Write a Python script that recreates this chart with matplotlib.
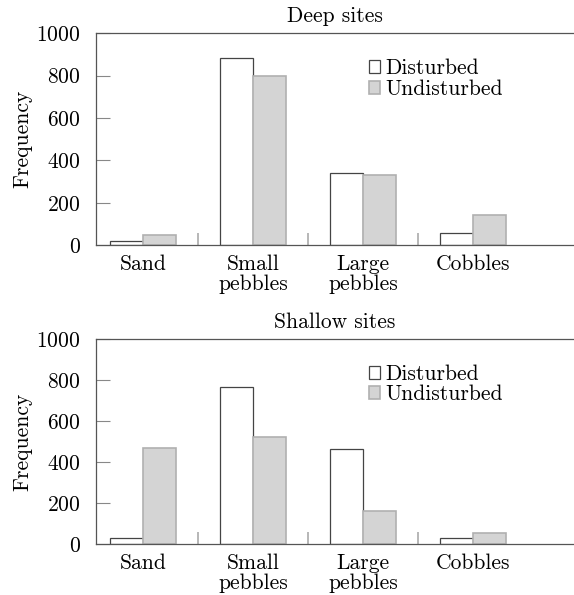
import matplotlib.pyplot as plt
import numpy as np

# data
categories = ["Sand", "Small\npebbles", "Large\npebbles", "Cobbles"]
deep_disturbed = [20, 885, 340, 55]
deep_undisturbed = [50, 797, 332, 140]
shallow_disturbed = [28, 765, 461, 28]
shallow_undisturbed = [466, 524, 161, 52]
yticks = [0, 200, 400, 600, 800, 1000]

plt.rcParams['font.family'] = ['cmr10', 'DejaVu Serif']
plt.rcParams['axes.formatter.use_mathtext'] = True

fig = plt.figure(figsize=(5.74, 5.95), dpi=100)
ax1 = fig.add_axes([0.167, 0.588, 0.833, 0.356])
ax2 = fig.add_axes([0.167, 0.086, 0.833, 0.344])

x = np.arange(1, len(categories) + 1)
w = 0.3
fs = 15.5
spine_col = "#555555"

def draw(ax, dist, undist, title):
    ax.bar(x - w / 2, dist, w, color="white", edgecolor="#444444", linewidth=0.9,
           label="Disturbed")
    ax.bar(x + w / 2, undist, w, color="#d4d4d4", edgecolor="#b0b0b0", linewidth=1.2,
           label="Undisturbed")
    ax.set_xlim(0.573, 4.918)
    ax.set_ylim(0, 1000)
    ax.set_yticks(yticks)
    ax.set_xticks(x)
    ax.set_xticklabels(categories, fontsize=fs, linespacing=1.0)
    ax.set_xticks([1.5, 2.5, 3.5], minor=True)
    ax.tick_params(axis="x", which="major", length=0, pad=7)
    ax.tick_params(axis="x", which="minor", direction="in", length=9, color="#aaaaaa", width=1.2)
    ax.tick_params(axis="y", direction="in", length=10, color="#888888", labelsize=fs, pad=11)
    ax.spines["right"].set_visible(False)
    for s in ["left", "top", "bottom"]:
        ax.spines[s].set_color(spine_col)
        ax.spines[s].set_linewidth(0.9)
    ax.set_ylabel("Frequency", fontsize=fs, labelpad=3)
    ax.set_title(title, fontsize=fs, pad=8)
    ax.legend(loc="upper right", bbox_to_anchor=(0.87, 0.92), frameon=False, fontsize=fs,
              handlelength=0.55, handleheight=0.55, handletextpad=0.25, labelspacing=0.05,
              borderaxespad=0)

draw(ax1, deep_disturbed, deep_undisturbed, "Deep sites")
draw(ax2, shallow_disturbed, shallow_undisturbed, "Shallow sites")

fig.savefig("out.png", dpi=100)
